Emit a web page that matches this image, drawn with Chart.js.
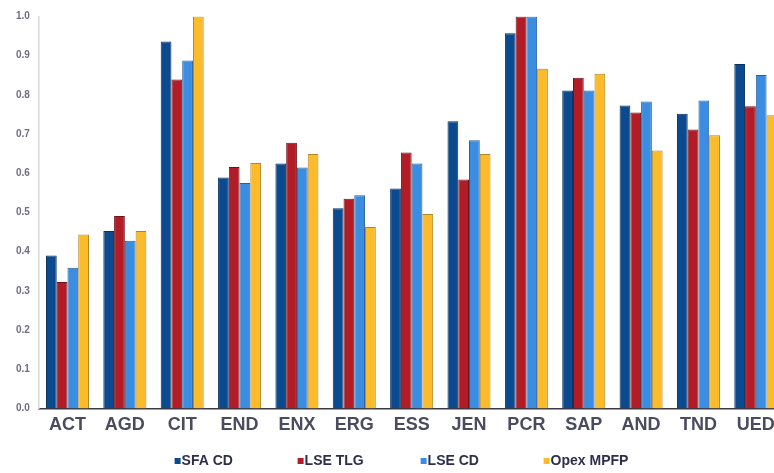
<!DOCTYPE html>
<html>
<head>
<meta charset="utf-8">
<title>Scores by company</title>
<script src="https://cdn.jsdelivr.net/npm/chart.js@4/dist/chart.umd.min.js"></script>
<style>
  html, body { margin: 0; padding: 0; background: #ffffff; overflow: hidden; }
  #wrap { width: 774px; height: 473px; overflow: hidden; position: relative; }
  canvas { display: block; }
</style>
</head>
<body>
<div id="wrap"><canvas id="chart" width="786" height="473"></canvas></div>
<script>
// Companies along the x axis
const categories = ['ACT', 'AGD', 'CIT', 'END', 'ENX', 'ERG', 'ESS', 'JEN', 'PCR', 'SAP', 'AND', 'TND', 'UED'];

// Series values (0..1)
const sfaCd    = [0.39, 0.453, 0.936, 0.589, 0.625, 0.511, 0.561, 0.733, 0.957, 0.811, 0.773, 0.752, 0.879];
const lseTlg   = [0.323, 0.491, 0.839, 0.616, 0.678, 0.535, 0.653, 0.584, 1.0, 0.844, 0.755, 0.712, 0.771];
const lseCd    = [0.359, 0.428, 0.888, 0.575, 0.615, 0.544, 0.625, 0.684, 1.0, 0.811, 0.783, 0.786, 0.851];
const opexMpfp = [0.444, 0.453, 1.0, 0.626, 0.649, 0.463, 0.496, 0.649, 0.867, 0.854, 0.658, 0.697, 0.748];

// Y axis tick values
const yTicks = [0.0, 0.1, 0.2, 0.3, 0.4, 0.5, 0.6, 0.7, 0.8, 0.9, 1.0];

const seriesNames = ['SFA CD', 'LSE TLG', 'LSE CD', 'Opex MPFP'];
const fills   = ['#0b4a8e', '#b11c26', '#3a8de0', '#fcbb2a'];
const borders = ['#0a2f5e', '#6e1418', '#2a5f9a', '#b38424'];
const seriesValues = [sfaCd, lseTlg, lseCd, opexMpfp];

// Legend drawn on the canvas in evenly spaced slots below the axis
const slotLegend = {
  id: 'slotLegend',
  afterDraw(chart) {
    const ctx = chart.ctx;
    const step = 123;
    const centerX = 402;
    const y = 461;
    ctx.save();
    ctx.font = 'bold 14px "Liberation Sans", Arial, sans-serif';
    ctx.textBaseline = 'middle';
    ctx.textAlign = 'left';
    const widths = chart.data.datasets.map(ds => 8 + ctx.measureText(ds.label).width);
    const total = step * (chart.data.datasets.length - 1) + widths[widths.length - 1];
    let x = centerX - total / 2;
    chart.data.datasets.forEach((ds) => {
      ctx.fillStyle = ds.backgroundColor;
      ctx.fillRect(x, y - 3, 6, 6);
      ctx.fillStyle = '#2e2f4a';
      ctx.fillText(ds.label, x + 7, y + 0.5);
      x += step;
    });
    ctx.restore();
  }
};

new Chart(document.getElementById('chart'), {
  type: 'bar',
  data: {
    labels: categories,
    datasets: seriesNames.map((name, i) => ({
      label: name,
      data: seriesValues[i],
      backgroundColor: fills[i],
      borderColor: borders[i],
      borderWidth: 1,
      borderSkipped: 'bottom',
      barPercentage: 1.0,
      categoryPercentage: 0.75
    }))
  },
  options: {
    responsive: false,
    animation: false,
    layout: { padding: { top: 16.5, right: 1.5, bottom: 30.5, left: 0 } },
    plugins: {
      legend: { display: false },
      tooltip: { enabled: false }
    },
    scales: {
      x: {
        grid: { display: false, drawTicks: false },
        border: { display: true, color: '#3a3a44', width: 1.5 },
        ticks: {
          color: '#4b4b60',
          padding: 6,
          font: { family: '"Liberation Sans", Arial, sans-serif', size: 18, weight: 'bold' }
        },
        afterFit(scale) { scale.height = 34; }
      },
      y: {
        min: 0,
        max: 1,
        afterBuildTicks(scale) { scale.ticks = yTicks.map(v => ({ value: v })); },
        grid: { display: false, drawTicks: false },
        border: { display: true, color: '#d8d8dc', width: 1.5 },
        ticks: {
          color: '#6e6e82',
          padding: 9,
          font: { family: '"Liberation Sans", Arial, sans-serif', size: 10, weight: 'bold' },
          callback: v => Number(v).toFixed(1)
        },
        afterFit(scale) { scale.width = 38.8; }
      }
    }
  },
  plugins: [slotLegend]
});
</script>
</body>
</html>
